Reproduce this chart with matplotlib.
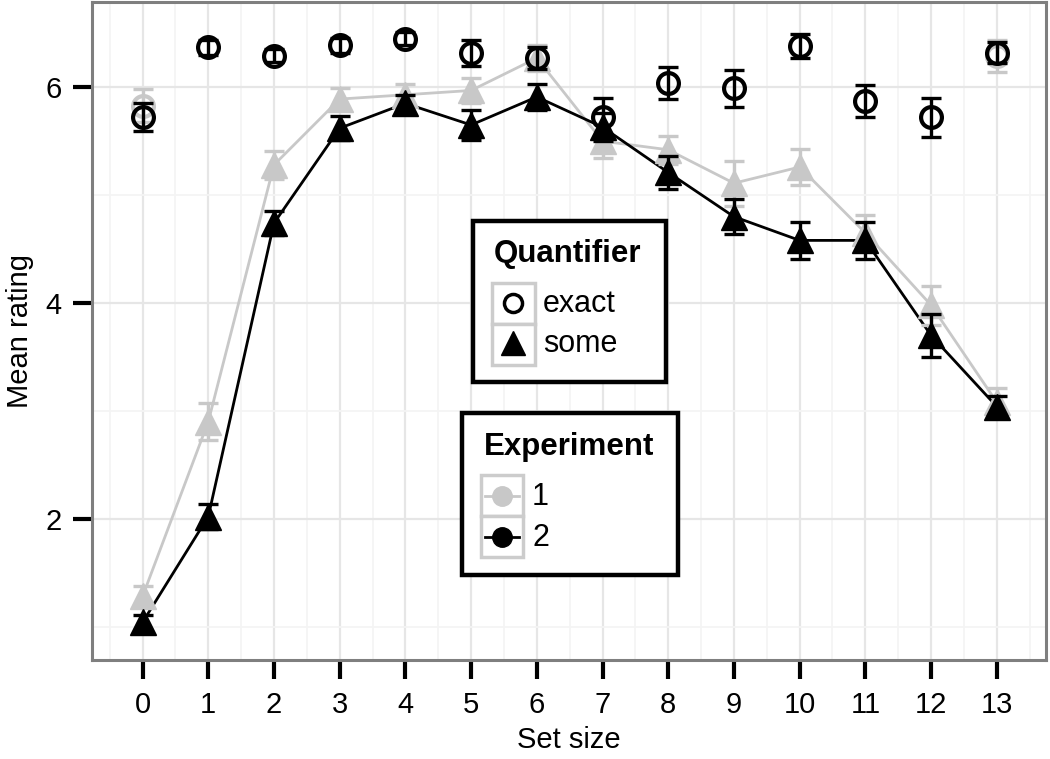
import numpy as np
import matplotlib
matplotlib.use("Agg")
import matplotlib.pyplot as plt
from matplotlib.lines import Line2D
from matplotlib.patches import Rectangle

plt.rcParams['font.family'] = ['Liberation Sans', 'DejaVu Sans']

# data
set_size = np.arange(0, 14)
some_exp1 = [1.28, 2.90, 5.28, 5.89, 5.93, 5.97, 6.27, 5.50, 5.42, 5.11, 5.26, 4.65, 3.98, 3.08]
some_exp1_se = [0.10, 0.17, 0.13, 0.10, 0.10, 0.12, 0.12, 0.16, 0.13, 0.21, 0.17, 0.17, 0.18, 0.13]
some_exp2 = [1.04, 2.02, 4.74, 5.62, 5.85, 5.65, 5.91, 5.63, 5.21, 4.80, 4.58, 4.58, 3.70, 3.04]
some_exp2_se = [0.07, 0.12, 0.11, 0.11, 0.08, 0.14, 0.12, 0.13, 0.15, 0.16, 0.17, 0.17, 0.20, 0.10]
exact_exp2 = [5.72, 6.37, 6.29, 6.39, 6.45, 6.32, 6.27, 5.72, 6.04, 5.99, 6.38, 5.87, 5.72, 6.32]
exact_exp2_se = [0.13, 0.07, 0.06, 0.07, 0.06, 0.12, 0.10, 0.18, 0.15, 0.17, 0.11, 0.15, 0.18, 0.10]
exact_exp1_size = [0, 13]
exact_exp1 = [5.83, 6.29]
exact_exp1_se = [0.15, 0.15]

GREY = '#c8c8c8'
W, H = 1050, 759

fig = plt.figure(figsize=(10.5, 7.59), dpi=100)
ax = fig.add_axes([92 / W, 1 - 660 / H, 954 / W, 658 / H])

# lines
ax.plot(set_size, some_exp1, color=GREY, lw=2, zorder=2)
ax.plot(set_size, some_exp2, color='black', lw=2, zorder=3)

# points
ax.plot(exact_exp1_size, exact_exp1, 'o', ms=15, mfc='none', mec=GREY, mew=3, zorder=4)
ax.plot(set_size, some_exp1, '^', ms=19, color=GREY, zorder=4)
ax.plot(set_size, exact_exp2, 'o', ms=15, mfc='none', mec='black', mew=3, zorder=5)
ax.plot(set_size, some_exp2, '^', ms=19, color='black', zorder=5)

# error bars
ax.errorbar(exact_exp1_size, exact_exp1, yerr=exact_exp1_se, fmt='none', ecolor=GREY,
            elinewidth=2.4, capsize=7.5, capthick=2.4, zorder=4)
ax.errorbar(set_size, some_exp1, yerr=some_exp1_se, fmt='none', ecolor=GREY,
            elinewidth=2.4, capsize=7.5, capthick=2.4, zorder=4)
ax.errorbar(set_size, exact_exp2, yerr=exact_exp2_se, fmt='none', ecolor='black',
            elinewidth=2.4, capsize=7.5, capthick=2.4, zorder=6)
ax.errorbar(set_size, some_exp2, yerr=some_exp2_se, fmt='none', ecolor='black',
            elinewidth=2.4, capsize=7.5, capthick=2.4, zorder=6)

ax.set_xlim(-0.77, 13.75)
ax.set_ylim(0.69, 6.79)
ax.set_xticks(set_size)
ax.set_xticks(np.arange(-0.5, 14, 1), minor=True)
ax.set_yticks([2, 4, 6])
ax.set_yticks([1, 3, 5], minor=True)
ax.grid(which='major', color='#e6e6e6', lw=1.6, zorder=0)
ax.grid(which='minor', color='#f4f4f4', lw=1.3, zorder=0)
ax.set_axisbelow(True)
ax.tick_params(which='major', length=14, width=3, color='black', labelsize=21, pad=8)
ax.tick_params(which='minor', length=0)
for s in ax.spines.values():
    s.set_color('#7f7f7f')
    s.set_linewidth(2.2)
ax.set_xlabel('Set size', fontsize=21, labelpad=5)
ax.set_ylabel('Mean rating', fontsize=21, labelpad=8)


def fx(p):
    return p / W


def fy(p):
    return 1 - p / H


def box(x0, y0, x1, y1, ec, lw, z=10):
    fig.add_artist(Rectangle((fx(x0), fy(y1)), fx(x1) - fx(x0), fy(y0) - fy(y1),
                             transform=fig.transFigure, fc='white', ec=ec, lw=lw, zorder=z))


# Quantifier legend
box(473, 221, 666, 382, 'black', 3.2)
fig.text(fx(494), fy(254), 'Quantifier', fontsize=22.5, fontweight='bold', va='center', zorder=12)
box(492, 283, 535, 324, '#cccccc', 2.5, 11)
box(492, 324, 535, 365, '#cccccc', 2.5, 11)
fig.add_artist(Line2D([fx(513)], [fy(303)], marker='o', ms=13, mfc='none', mec='black', mew=2.5,
                      transform=fig.transFigure, zorder=12))
fig.add_artist(Line2D([fx(513)], [fy(343)], marker='^', ms=17, color='black', lw=0,
                      transform=fig.transFigure, zorder=12))
fig.text(fx(543), fy(304), 'exact', fontsize=22, va='center', zorder=12)
fig.text(fx(543), fy(344), 'some', fontsize=22, va='center', zorder=12)

# Experiment legend
box(462, 413, 678, 575, 'black', 3.2)
fig.text(fx(484), fy(447), 'Experiment', fontsize=22.5, fontweight='bold', va='center', zorder=12)
box(481, 475, 523, 516, '#cccccc', 2.5, 11)
box(481, 516, 523, 557, '#cccccc', 2.5, 11)
for yy, c in [(496, GREY), (537, 'black')]:
    fig.add_artist(Line2D([fx(485), fx(519)], [fy(yy), fy(yy)], color=c, lw=2,
                          transform=fig.transFigure, zorder=12))
    fig.add_artist(Line2D([fx(502)], [fy(yy)], marker='o', ms=14, color=c, lw=0,
                          transform=fig.transFigure, zorder=12))
fig.text(fx(532), fy(497), '1', fontsize=22, va='center', zorder=12)
fig.text(fx(532), fy(538), '2', fontsize=22, va='center', zorder=12)

fig.savefig('out.png', dpi=100)
